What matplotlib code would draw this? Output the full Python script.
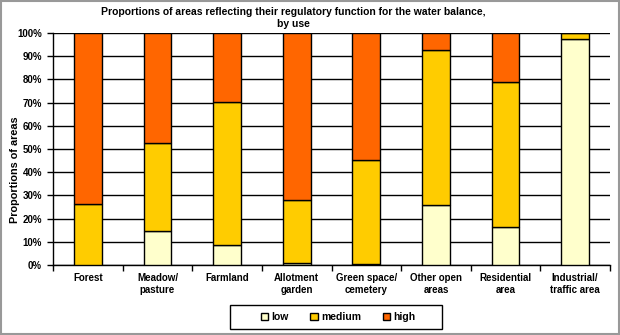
import matplotlib
matplotlib.use("Agg")
import matplotlib.pyplot as plt
import numpy as np
from matplotlib.patches import Rectangle

plt.rcParams['font.family'] = ['Liberation Sans', 'DejaVu Sans']
plt.rcParams['font.weight'] = 'bold'

categories = ["Forest", "Meadow/\npasture", "Farmland", "Allotment\ngarden",
              "Green space/\ncemetery", "Other open\nareas", "Residential\narea",
              "Industrial/\ntraffic area"]
low = [0.0, 14.6, 8.5, 0.7, 0.3, 26.0, 16.3, 97.3]
medium = [26.2, 38.1, 61.8, 27.3, 45.0, 66.5, 62.4, 2.7]
high = [73.8, 47.3, 29.7, 72.0, 54.7, 7.5, 21.3, 0.0]
series_names = ["low", "medium", "high"]
colors = ["#FFFFCC", "#FFCC00", "#FF6600"]

W, H = 620, 335
fig = plt.figure(figsize=(W/100, H/100), dpi=100)
ax = fig.add_axes([53/W, 1 - 265/H, (610 - 53)/W, (265 - 33)/H])

x = np.arange(len(categories))
bottom = np.zeros(len(categories))
handles = []
for vals, name, col in zip([low, medium, high], series_names, colors):
    vals = np.array(vals)
    b = ax.bar(x, vals, width=0.40, bottom=bottom, color=col,
               edgecolor="black", linewidth=1.0, label=name, zorder=3)
    handles.append(b)
    bottom += vals

ax.set_xlim(-0.5, len(categories) - 0.5)
ax.set_ylim(0, 100)
ax.set_yticks(np.arange(0, 101, 10))
ax.set_yticklabels([f"{v}%" for v in range(0, 101, 10)], fontsize=7, fontweight='bold')
ax.yaxis.grid(True, color="black", linewidth=1.0, zorder=0)
ax.set_axisbelow(True)

ax.set_xticks(x)
ax.set_xticklabels(categories, fontsize=7, fontweight='bold')
ax.tick_params(axis='x', which='major', length=0, pad=6)
ax.set_xticks(np.arange(-0.5, len(categories), 1), minor=True)
ax.tick_params(axis='x', which='minor', length=4, width=1, direction='out')
ax.tick_params(axis='y', length=4, width=1, direction='out', pad=4)

for s in ["top", "right"]:
    ax.spines[s].set_visible(False)
for s in ["left", "bottom"]:
    ax.spines[s].set_linewidth(1.0)
    ax.spines[s].set_color("black")

# y-axis title
fig.text(15/W, 1 - 170/H, "Proportions of areas", rotation=90,
         ha='center', va='center', fontsize=7.8, fontweight='bold')

# chart title
fig.text(293/W, 1 - 18/H,
         "Proportions of areas reflecting their regulatory function for the water balance,\nby use",
         ha='center', va='center', fontsize=7.5, fontweight='bold', linespacing=1.3)

# legend with its own box
fig.patches.append(Rectangle((230/W, 1 - 329/H), (442 - 230)/W, 24/H,
                             transform=fig.transFigure, fill=True,
                             facecolor='white', edgecolor='black', linewidth=1.0))
leg = fig.legend(handles=handles, labels=series_names, loc='center',
                 bbox_to_anchor=(338/W, 1 - 317/H), ncol=3, frameon=False,
                 fontsize=7.5, handlelength=0.7, handleheight=0.7,
                 columnspacing=2.1, handletextpad=0.3, borderpad=0.3)
for t in leg.get_texts():
    t.set_fontweight('bold')

# outer chart border
fig.patches.append(Rectangle((0.002, 0.003), 0.996, 0.994, transform=fig.transFigure,
                             fill=False, edgecolor="#999999", linewidth=1.5))

fig.savefig("out.png", dpi=100)
